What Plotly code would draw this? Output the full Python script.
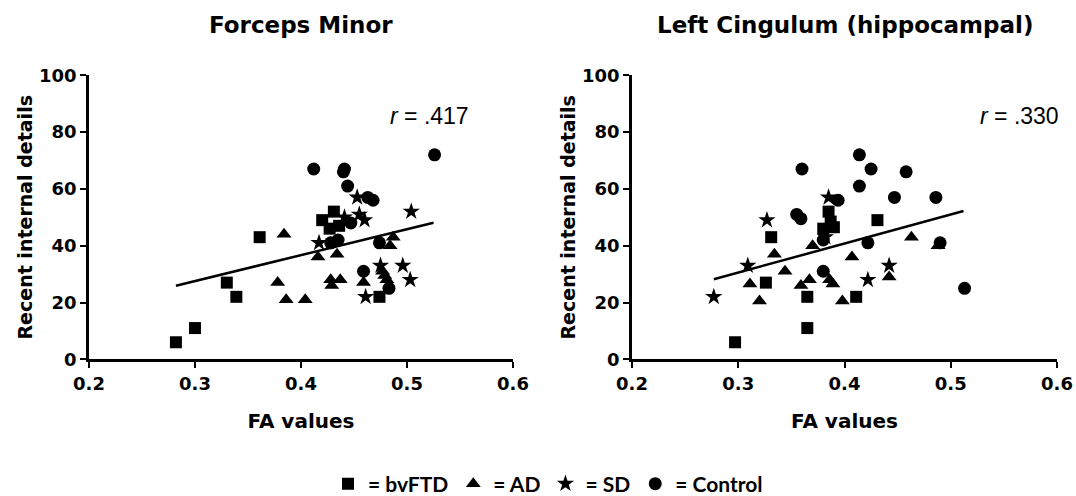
import plotly.graph_objects as go

# ---------------- data ----------------
group_names = ["= bvFTD", "= AD", "= SD", "= Control"]
group_symbols = ["square", "triangle-up", "star", "circle"]

panel_titles = ["Forceps Minor", "Left Cingulum (hippocampal)"]
r_labels = ["<i>r</i> = .417", "<i>r</i> = .330"]

x_ticks = [0.2, 0.3, 0.4, 0.5, 0.6]
x_tick_text = ["0.2", "0.3", "0.4", "0.5", "0.6"]
y_ticks = [0, 20, 40, 60, 80, 100]
y_tick_text = ["0", "20", "40", "60", "80", "100"]

# Forceps Minor
fm_bvftd_x = [0.282, 0.300, 0.361, 0.330, 0.339, 0.420, 0.431, 0.427, 0.436, 0.474]
fm_bvftd_y = [6, 11, 43, 27, 22, 49, 52, 46, 47, 22]
fm_ad_x = [0.384, 0.378, 0.386, 0.404, 0.416, 0.434, 0.428, 0.429, 0.437, 0.459, 0.487, 0.484, 0.477, 0.479, 0.481]
fm_ad_y = [44, 27, 21, 21, 36, 37, 28, 26, 28, 27, 43, 40, 31, 29.5, 28]
fm_sd_x = [0.453, 0.455, 0.460, 0.441, 0.504, 0.417, 0.475, 0.496, 0.503, 0.461]
fm_sd_y = [57, 51, 49, 50, 52, 41, 33, 33, 28, 22]
fm_ctrl_x = [0.412, 0.440, 0.441, 0.444, 0.463, 0.468, 0.526, 0.447, 0.428, 0.435, 0.474, 0.459, 0.483]
fm_ctrl_y = [67, 66, 67, 61, 57, 56, 72, 48, 41, 42, 41, 31, 25]
fm_fit_x = [0.282, 0.525]
fm_fit_y = [25.9, 48.1]

# Left Cingulum (hippocampal)
lc_bvftd_x = [0.297, 0.331, 0.326, 0.365, 0.365, 0.411, 0.431, 0.385, 0.387, 0.380, 0.390]
lc_bvftd_y = [6, 43, 27, 22, 11, 22, 49, 52, 48.5, 46, 46.5]
lc_ad_x = [0.334, 0.311, 0.320, 0.344, 0.359, 0.367, 0.370, 0.386, 0.389, 0.398, 0.407, 0.442, 0.463, 0.488]
lc_ad_y = [37, 26.5, 20.5, 31, 26, 28, 40, 28, 26.5, 20.5, 36, 29, 43, 40]
lc_sd_x = [0.277, 0.309, 0.327, 0.385, 0.422, 0.442, 0.382]
lc_sd_y = [22, 33, 49, 57, 28, 33, 43]
lc_ctrl_x = [0.360, 0.414, 0.425, 0.458, 0.414, 0.394, 0.447, 0.486, 0.355, 0.359, 0.380, 0.422, 0.380, 0.490, 0.513]
lc_ctrl_y = [67, 72, 67, 66, 61, 56, 57, 57, 51, 49.5, 42, 41, 31, 41, 25]
lc_fit_x = [0.277, 0.512]
lc_fit_y = [28.2, 52.2]

# ---------------- figure ----------------
W, H = 1076, 496
FONT = "DejaVu Sans"

def px(xp):   # page pixel -> paper fraction (x)
    return xp / W

def py(yp):   # page pixel -> paper fraction (y)
    return 1 - yp / H

panels = [
    dict(groups=[(fm_bvftd_x, fm_bvftd_y), (fm_ad_x, fm_ad_y), (fm_sd_x, fm_sd_y), (fm_ctrl_x, fm_ctrl_y)],
         fit=(fm_fit_x, fm_fit_y), xa="x", ya="y"),
    dict(groups=[(lc_bvftd_x, lc_bvftd_y), (lc_ad_x, lc_ad_y), (lc_sd_x, lc_sd_y), (lc_ctrl_x, lc_ctrl_y)],
         fit=(lc_fit_x, lc_fit_y), xa="x2", ya="y2"),
]
marker_sizes = {"square": 12, "triangle-up": 13, "star": 13, "circle": 13}

fig = go.Figure()
for pi, p in enumerate(panels):
    fig.add_trace(go.Scatter(x=p["fit"][0], y=p["fit"][1], mode="lines",
                             line=dict(color="black", width=2.5), showlegend=False,
                             xaxis=p["xa"], yaxis=p["ya"], hoverinfo="skip"))
    for gi, (gx, gy) in enumerate(p["groups"]):
        sym = group_symbols[gi]
        fig.add_trace(go.Scatter(
            x=gx, y=gy, mode="markers", name=group_names[gi],
            marker=dict(symbol=sym, size=marker_sizes[sym], color="black",
                        line=dict(width=0)),
            showlegend=(pi == 0), cliponaxis=False,
            xaxis=p["xa"], yaxis=p["ya"]))

y_dom = [py(359.3), py(75.3)]
x_dom1 = [px(89), px(513)]
x_dom2 = [px(632), px(1057)]

tickfont = dict(family=FONT, size=18, color="black", weight="bold")
xtitlefont = dict(family=FONT, size=20, color="black", weight="bold")
ytitlefont = dict(family=FONT, size=19, color="black", weight="bold")

def xaxis(dom, anchor):
    return dict(domain=dom, anchor=anchor, range=[0.2, 0.6], tickvals=x_ticks, ticktext=x_tick_text,
                showline=True, linecolor="black", linewidth=2.5, ticks="outside", ticklen=6,
                tickwidth=2, tickcolor="black", showgrid=False, zeroline=False, tickfont=tickfont,
                title=dict(text="FA values", font=xtitlefont, standoff=22), automargin=False,
                fixedrange=True)

def yaxis(anchor):
    return dict(domain=y_dom, anchor=anchor, range=[0, 100], tickvals=y_ticks, ticktext=y_tick_text,
                showline=True, linecolor="black", linewidth=2.5, ticks="outside", ticklen=6,
                tickwidth=2, tickcolor="black", showgrid=False, zeroline=False, tickfont=tickfont,
                title=dict(text="Recent internal details", font=ytitlefont, standoff=2),
                automargin=False, fixedrange=True)

annotations = []
for pi, dom in enumerate([x_dom1, x_dom2]):
    annotations.append(dict(text=panel_titles[pi], xref="paper", yref="paper",
                            x=(dom[0] + dom[1]) / 2, y=py(25), xanchor="center", yanchor="middle",
                            showarrow=False, font=dict(family=FONT, size=23, color="black", weight="bold")))
annotations.append(dict(text=r_labels[0], xref="x", yref="y", x=0.4816, y=85.7, xanchor="left",
                        yanchor="middle", showarrow=False,
                        font=dict(family="Liberation Sans", size=23, color="black")))
annotations.append(dict(text=r_labels[1], xref="x2", yref="y2", x=0.526, y=85.7, xanchor="left",
                        yanchor="middle", showarrow=False,
                        font=dict(family="Liberation Sans", size=23, color="black")))

fig.update_layout(
    width=W, height=H, autosize=False,
    margin=dict(l=0, r=0, t=0, b=0, autoexpand=False),
    paper_bgcolor="white", plot_bgcolor="white",
    xaxis=xaxis(x_dom1, "y"), yaxis=yaxis("x"),
    xaxis2=xaxis(x_dom2, "y2"), yaxis2=yaxis("x2"),
    annotations=annotations,
    showlegend=True,
    legend=dict(orientation="h", x=px(548), xanchor="center", y=py(484), yanchor="middle",
                font=dict(family="Lato", size=21, color="black", weight="bold"),
                itemsizing="trace", itemwidth=30, bgcolor="rgba(0,0,0,0)", itemclick=False,
                itemdoubleclick=False, tracegroupgap=0),
)

fig.write_html("out.html",
               config={"displayModeBar": False, "staticPlot": False},
               post_script="document.body.style.margin='0px';document.body.style.overflow='hidden';")
